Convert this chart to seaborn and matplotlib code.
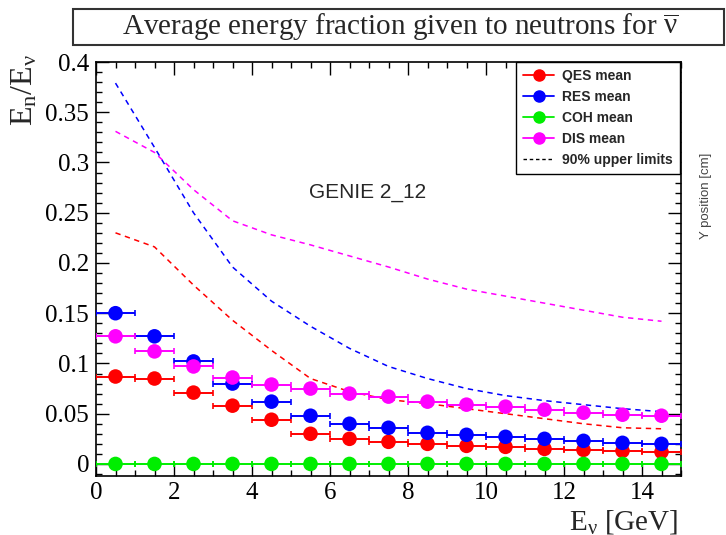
import numpy as np
import pandas as pd
import matplotlib
matplotlib.use("Agg")
import matplotlib.pyplot as plt
from matplotlib.lines import Line2D
from matplotlib.patches import Rectangle
from matplotlib.ticker import MultipleLocator, FuncFormatter
import seaborn as sns

# ---------------- data ----------------
energy = [0.5, 1.5, 2.5, 3.5, 4.5, 5.5, 6.5, 7.5, 8.5, 9.5, 10.5, 11.5, 12.5, 13.5, 14.5]
bin_halfwidth = 0.5

qes_mean = [0.087, 0.085, 0.071, 0.058, 0.044, 0.030, 0.025, 0.022, 0.020, 0.018, 0.017, 0.015, 0.014, 0.013, 0.012]
res_mean = [0.150, 0.127, 0.102, 0.080, 0.062, 0.048, 0.040, 0.036, 0.031, 0.029, 0.027, 0.025, 0.023, 0.021, 0.020]
coh_mean = [0.0, 0.0, 0.0, 0.0, 0.0, 0.0, 0.0, 0.0, 0.0, 0.0, 0.0, 0.0, 0.0, 0.0, 0.0]
dis_mean = [0.127, 0.112, 0.097, 0.086, 0.079, 0.075, 0.070, 0.067, 0.062, 0.059, 0.057, 0.054, 0.051, 0.049, 0.048]

qes_limit = [0.230, 0.216, 0.178, 0.143, 0.113, 0.085, 0.072, 0.064, 0.060, 0.055, 0.050, 0.045, 0.040, 0.036, 0.035]
res_limit = [0.379, 0.315, 0.250, 0.196, 0.162, 0.137, 0.115, 0.097, 0.085, 0.075, 0.068, 0.063, 0.059, 0.055, 0.052]
dis_limit = [0.331, 0.310, 0.273, 0.242, 0.228, 0.218, 0.207, 0.196, 0.184, 0.174, 0.167, 0.160, 0.153, 0.146, 0.142]

processes = ["QES", "RES", "COH", "DIS"]
colors = {"QES": "#ff0000", "RES": "#0000ff", "COH": "#00ee00", "DIS": "#ff00ff"}

means = pd.DataFrame({
    "E": energy * 4,
    "mean": qes_mean + res_mean + coh_mean + dis_mean,
    "process": sum([[p] * len(energy) for p in processes], []),
})
limits = pd.DataFrame({
    "E": energy * 3,
    "limit": qes_limit + res_limit + dis_limit,
    "process": sum([[p] * len(energy) for p in ["QES", "RES", "DIS"]], []),
})

# ---------------- style ----------------
sns.set_theme(style="ticks")
plt.rcParams["font.family"] = ["Liberation Serif", "DejaVu Serif"]
plt.rcParams["mathtext.fontset"] = "custom"
plt.rcParams["mathtext.rm"] = "Liberation Serif"
plt.rcParams["mathtext.it"] = "Liberation Serif:italic"

W, H = 726, 535
fig = plt.figure(figsize=(W / 100, H / 100), dpi=100)
ax = fig.add_axes([96 / W, 1 - 476 / H, (681 - 96) / W, (476 - 62) / H])

# dashed upper limits
for p in ["QES", "RES", "DIS"]:
    sub = limits[limits["process"] == p]
    sns.lineplot(data=sub, x="E", y="limit", ax=ax, color=colors[p],
                 linewidth=1.1, linestyle=(0, (3.5, 3)), legend=False, zorder=2)

# horizontal bin-width bars
for p in processes:
    sub = means[means["process"] == p]
    ax.errorbar(sub["E"], sub["mean"], xerr=bin_halfwidth, fmt="none",
                ecolor=colors[p], elinewidth=1.4, capsize=2.5, capthick=1.2, zorder=3)

# mean markers
sns.scatterplot(data=means, x="E", y="mean", hue="process", palette=colors,
                s=110, edgecolor="none", legend=False, ax=ax, zorder=4)

ax.set_xlim(0, 15)
ax.set_ylim(-0.012, 0.4)
ax.set_xlabel("")
ax.set_ylabel("")
ax.xaxis.set_major_locator(MultipleLocator(2))
ax.xaxis.set_minor_locator(MultipleLocator(0.5))
ax.yaxis.set_major_locator(MultipleLocator(0.05))
ax.yaxis.set_minor_locator(MultipleLocator(0.01))
ax.yaxis.set_major_formatter(FuncFormatter(lambda v, _: "%g" % round(v, 3)))
ax.tick_params(which="both", direction="in", top=True, right=True,
               labelsize=18, colors="black", labelfontfamily="Liberation Serif")
ax.tick_params(which="major", length=9.5, width=1.0)
ax.tick_params(which="minor", length=4.5, width=1.0)
ax.tick_params(axis="y", pad=5)
ax.tick_params(axis="x", pad=4)
for s in ax.spines.values():
    s.set_color("black")
    s.set_linewidth(1.2)

# GENIE label
ax.text(368 / W, 1 - 192 / H, "GENIE 2_12", transform=fig.transFigure,
        ha="center", va="center", fontsize=15, family="Liberation Sans")

# axis labels
fig.text(25 / W, 1 - 90 / H, r"$\mathrm{E_n/E_\nu}$", rotation=90,
         ha="center", va="center", fontsize=23)
fig.text(678 / W, 1 - 522 / H, r"$\mathrm{E_\nu}$ [GeV]", ha="right",
         va="center", fontsize=21)

# title box
fig.add_artist(Rectangle((73 / W, 1 - 45 / H), (724 - 73) / W, 36 / H,
                         transform=fig.transFigure, fill=False,
                         edgecolor="#333333", linewidth=1.5))
fig.text(400 / W, 1 - 27 / H,
         r"Average energy fraction given to neutrons for $\overline{\mathrm{\nu}}$",
         ha="center", va="center", fontsize=21)

# stray label
fig.text(706 / W, 1 - 196 / H, "Y position [cm]", rotation=90, ha="center",
         va="center", fontsize=9.5, family="Liberation Sans", color="#444444")

# legend
handles = [Line2D([], [], color=colors[p], marker="o", markersize=8, linewidth=1.3)
           for p in processes]
handles.append(Line2D([], [], color="black", linestyle=(0, (2.5, 2)), linewidth=1.0))
labels = [f"{p} mean" for p in processes] + ["90% upper limits"]
leg = fig.legend(handles, labels, loc="upper right",
                 bbox_to_anchor=(680 / W, 1 - 62 / H),
                 prop={"family": "Liberation Sans", "weight": "bold", "size": 10},
                 frameon=True, fancybox=False, framealpha=1, edgecolor="black",
                 handlelength=2.2, handletextpad=0.6, labelspacing=0.5,
                 borderpad=0.5, borderaxespad=0)
leg.get_frame().set_linewidth(1.0)

fig.savefig("out.png", dpi=100)
